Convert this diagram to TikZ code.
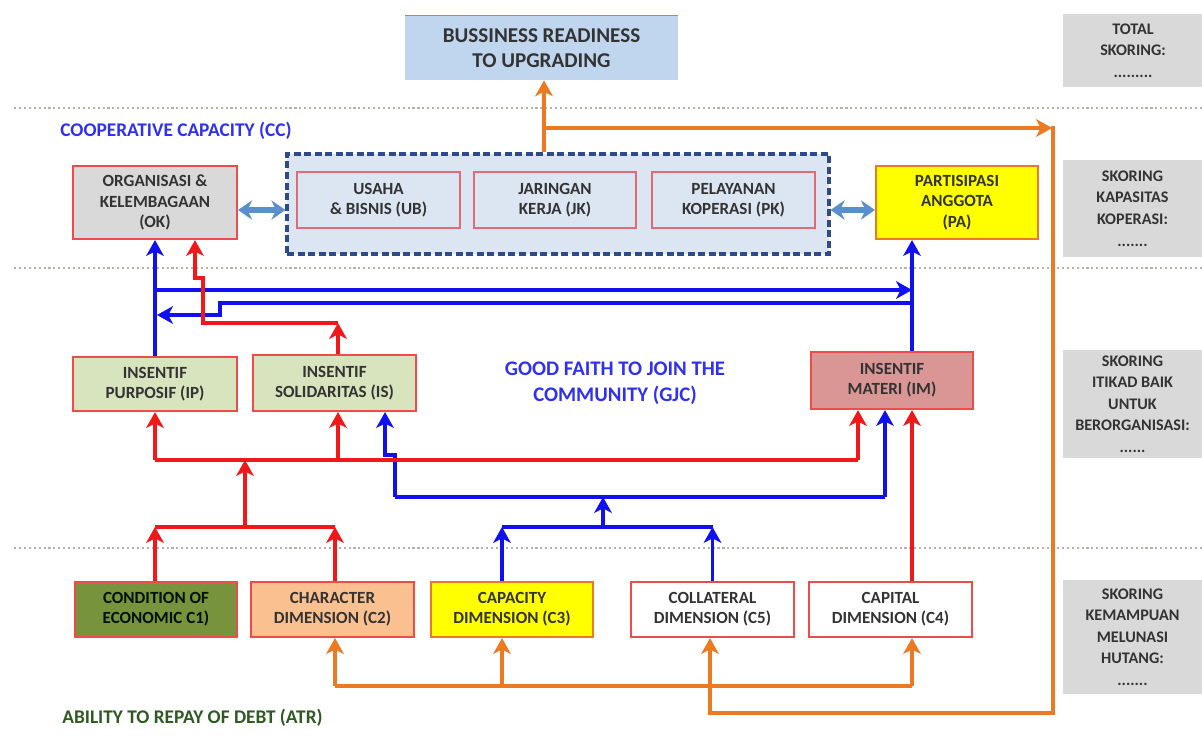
\documentclass[tikz,border=0pt]{standalone}
\usepackage{fontspec}
\setmainfont{Carlito}
\usetikzlibrary{arrows.meta}
\definecolor{bl}{HTML}{1010F0}
\definecolor{rd}{HTML}{F01818}
\definecolor{og}{HTML}{EC7A22}
\definecolor{sb}{HTML}{5B8FCC}
\definecolor{txt}{HTML}{333333}
\definecolor{boxred}{HTML}{EE4B4B}
\definecolor{pinkb}{HTML}{E06A78}
\definecolor{grayf}{HTML}{D9D9D9}
\definecolor{lbf}{HTML}{DCE6F2}
\definecolor{brf}{HTML}{C0D6EE}
\definecolor{contb}{HTML}{2E4A8A}
\definecolor{ipf}{HTML}{D7E4BD}
\definecolor{imf}{HTML}{D99694}
\definecolor{c1f}{HTML}{77933C}
\definecolor{c2f}{HTML}{FAC090}
\definecolor{ylw}{HTML}{FFFF00}
\definecolor{titb}{HTML}{3030F0}
\definecolor{atrg}{HTML}{2F5A22}
\definecolor{sepc}{HTML}{B8B0A0}
\tikzset{
  bx/.style={draw=boxred, line width=1.2pt, inner sep=0pt, align=center,
    font=\fontsize{9.7}{11.5}\selectfont\bfseries, text=txt},
  sk/.style={fill=grayf, inner sep=0pt, align=center,
    font=\fontsize{9.2}{12.3}\selectfont\bfseries, text=txt},
  tip/.style={-{Stealth[length=9pt,width=10pt,inset=2.5pt]}},
  bline/.style={draw=bl, line width=2.2pt},
  rline/.style={draw=rd, line width=2.2pt},
  oline/.style={draw=og, line width=2.2pt},
  dbl/.style={draw=sb, line width=3pt, {Stealth[length=8pt,width=11pt]}-{Stealth[length=8pt,width=11pt]}},
  sepline/.style={draw=sepc, line width=1.3pt, dash pattern=on 1.2pt off 1.6pt},
  title/.style={font=\fontsize{11}{14.5}\selectfont\bfseries, inner sep=0pt}
}
\begin{document}
\begin{tikzpicture}[x=0.02cm,y=-0.02cm]
\useasboundingbox (0,0) rectangle (1202,744);
\fill[white] (0,0) rectangle (1202,744);

% separators
\draw[sepline] (14,108) -- (1202,108);
\draw[sepline] (14,268) -- (1202,268);
\draw[sepline] (14,548) -- (1202,548);

% top
\node[fill=brf, inner sep=0pt, minimum width=5.46cm, minimum height=1.28cm, align=center,
  font=\fontsize{12}{14}\selectfont\bfseries, text=txt] (BR) at (541.5,48) {BUSSINESS READINESS\\TO UPGRADING};
\draw[og, line width=0.8pt] (BR.north west) -- (BR.north east);
\node[sk, minimum width=2.8cm, minimum height=1.46cm] (TS) at (1133,50.5) {TOTAL\\SKORING:\\.........};

\node[title, text=titb, anchor=west] (CC) at (60,131) {COOPERATIVE CAPACITY (CC)};

% row 1
\node[bx, fill=grayf, minimum width=3.28cm, minimum height=1.46cm] (OK) at (155,202.5) {ORGANISASI \&\\KELEMBAGAAN\\(OK)};
\node[draw=contb, fill=lbf, dash pattern=on 4pt off 2pt, line width=1.8pt, minimum width=10.84cm, minimum height=2.0cm] (CT) at (558,204) {};
\node[bx, draw=pinkb, fill=lbf, minimum width=3.26cm, minimum height=1.12cm] (UB) at (378.5,200) {USAHA\\\& BISNIS (UB)};
\node[bx, draw=pinkb, fill=lbf, minimum width=3.24cm, minimum height=1.12cm] (JK) at (555,200) {JARINGAN\\KERJA (JK)};
\node[bx, draw=pinkb, fill=lbf, minimum width=3.26cm, minimum height=1.12cm] (PK) at (733.5,200) {PELAYANAN\\KOPERASI (PK)};
\node[bx, draw=og, fill=ylw, minimum width=3.24cm, minimum height=1.46cm] (PA) at (957,202.5) {PARTISIPASI\\ANGGOTA\\(PA)};
\node[sk, minimum width=2.78cm, minimum height=1.94cm] (SK1) at (1132.5,208.5) {SKORING\\KAPASITAS\\KOPERASI:\\.......};

% row 2
\node[bx, fill=ipf, minimum width=3.28cm, minimum height=1.08cm] (IP) at (155,384) {INSENTIF\\PURPOSIF (IP)};
\node[bx, fill=ipf, minimum width=3.26cm, minimum height=1.12cm] (IS) at (334.5,383) {INSENTIF\\SOLIDARITAS (IS)};
\node[title, text=titb, align=center, font=\fontsize{11.8}{15}\selectfont\bfseries] (GJC) at (615,383) {GOOD FAITH TO JOIN THE\\COMMUNITY (GJC)};
\node[bx, fill=imf, minimum width=3.24cm, minimum height=1.14cm] (IM) at (892,380.5) {INSENTIF\\MATERI (IM)};
\node[sk, minimum width=2.78cm, minimum height=2.16cm] (SK2) at (1132.5,404) {SKORING\\ITIKAD BAIK\\UNTUK\\BERORGANISASI:\\......};

% row 3
\node[bx, fill=c1f, text=black!85!green!50!black, minimum width=3.24cm, minimum height=1.10cm] (C1) at (156,609.5) {CONDITION OF\\ECONOMIC C1)};
\node[bx, fill=c2f, minimum width=3.26cm, minimum height=1.10cm] (C2) at (332.5,609.5) {CHARACTER\\DIMENSION (C2)};
\node[bx, draw=og, fill=ylw, minimum width=3.24cm, minimum height=1.10cm] (C3) at (512,609.5) {CAPACITY\\DIMENSION (C3)};
\node[bx, fill=white, minimum width=3.26cm, minimum height=1.10cm] (C5) at (712.5,609.5) {COLLATERAL\\DIMENSION (C5)};
\node[bx, fill=white, minimum width=3.26cm, minimum height=1.10cm] (C4) at (890.5,609.5) {CAPITAL\\DIMENSION (C4)};
\node[sk, minimum width=2.78cm, minimum height=2.28cm] (SK3) at (1132.5,637) {SKORING\\KEMAMPUAN\\MELUNASI\\HUTANG:\\.......};

\node[title, text=atrg, anchor=west] (ATR) at (62,718) {ABILITY TO REPAY OF DEBT (ATR)};

% helper columns
\coordinate (xPA) at (912,0);
\coordinate (xOKr) at (195,0);
\coordinate (xIMr) at (858,0);
\coordinate (xIMb) at (885,0);
\coordinate (xISb) at (385,0);
\coordinate (xC3) at (502,0);
\coordinate (xC5) at (710,0);
\coordinate (xO) at (544,0);

% double arrows
\draw[dbl] (OK.east |- 0,210) -- (CT.west |- 0,210);
\draw[dbl] (CT.east |- 0,210) -- (PA.west |- 0,210);

% blue connectors
\coordinate (b1) at (155,290);
\coordinate (b2) at (912,290);
\coordinate (b3) at (912,303);
\coordinate (b4) at (157,315);
\draw[bline, tip] (IP.north) -- (OK.south);
\draw[bline, tip] (b1) -- (b2);
\draw[bline, tip] (IM.north -| xPA) -- (PA.south -| xPA);
\draw[bline, tip] (b3) -- (220,303) -- (220,315) -- (b4);
\coordinate (bc3) at (502,527);
\coordinate (bc5) at (712.5,527);
\coordinate (bm) at (603,527);
\coordinate (bm2) at (603,497);
\coordinate (bl1) at (395,497);
\coordinate (br1) at (885,497);
\draw[bline, tip] (C3.north -| xC3) -- (bc3);
\draw[bline, tip] (C5.north) -- (bc5);
\draw[bline] (bc3) -- (bc5);
\draw[bline, tip] (bm) -- (bm2);
\draw[bline] (bl1) -- (br1);
\draw[bline, tip] (br1) -- (IM.south -| xIMb);
\draw[bline, tip] (bl1) -- (395,455) -- (385,455) -- (IS.south -| xISb);

% red connectors
\coordinate (r1) at (338,323);
\draw[rline, tip] (IS.north -| r1) -- (r1);
\draw[rline, tip] (r1) -- (203,323) -- (203,278) -- (195,278) -- (OK.south -| xOKr);
\coordinate (rc1) at (155,527);
\coordinate (rc2) at (335,527);
\coordinate (rm) at (245,527);
\coordinate (rm2) at (245,460);
\coordinate (rl) at (155,460);
\coordinate (rs) at (338,460);
\coordinate (rr) at (858,460);
\draw[rline, tip] (C1.north -| rc1) -- (rc1);
\draw[rline, tip] (C2.north -| rc2) -- (rc2);
\draw[rline] (rc1) -- (rc2);
\draw[rline, tip] (rm) -- (rm2);
\draw[rline] (rl) -- (rr);
\draw[rline, tip] (rl) -- (IP.south);
\draw[rline, tip] (rs) -- (IS.south -| rs);
\draw[rline, tip] (rr) -- (IM.south -| xIMr);
\draw[rline, tip] (C4.north -| xPA) -- (IM.south -| xPA);

% orange connectors
\coordinate (o1) at (544,128);
\coordinate (o2) at (1052,128);
\draw[oline, tip] (CT.north -| xO) -- (BR.south -| xO);
\draw[oline, tip] (o1) -- (o2);
\draw[oline, tip] (1053,126) -- (1053,713) -- (710,713) -- (C5.south -| xC5);
\coordinate (ol) at (335,686);
\coordinate (or) at (912,686);
\draw[oline] (ol) -- (or);
\draw[oline, tip] (ol) -- (C2.south -| ol);
\draw[oline, tip] (502,686) -- (C3.south -| xC3);
\draw[oline, tip] (or) -- (C4.south -| xPA);
\end{tikzpicture}
\end{document}
